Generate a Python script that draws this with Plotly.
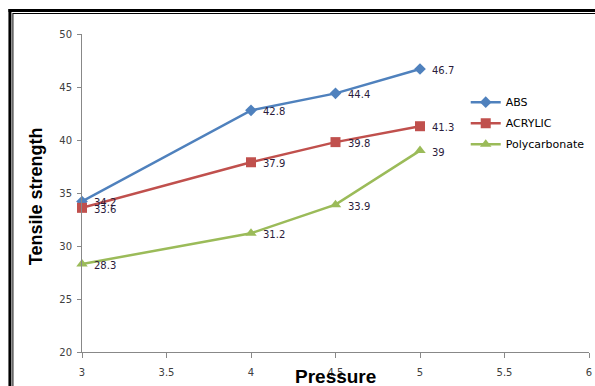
import plotly.graph_objects as go

pressure = [3, 4, 4.5, 5]
abs_vals = [34.2, 42.8, 44.4, 46.7]
acrylic_vals = [33.6, 37.9, 39.8, 41.3]
poly_vals = [28.3, 31.2, 33.9, 39]
series_names = ["ABS", "ACRYLIC", "Polycarbonate"]
x_ticks = [3, 3.5, 4, 4.5, 5, 5.5, 6]
y_ticks = [20, 25, 30, 35, 40, 45, 50]

colors = ["#4F81BD", "#C0504D", "#9BBB59"]
symbols = ["diamond", "square", "triangle-up"]
sizes = [9, 10, 10]
label_color = "#2B1B3B"

fig = go.Figure()
annotations = []
for name, vals, c, s, sz in zip(series_names, [abs_vals, acrylic_vals, poly_vals], colors, symbols, sizes):
    fig.add_trace(go.Scatter(
        x=pressure, y=vals, name=name, mode="lines+markers", legendgroup=name,
        line=dict(color=c, width=2.5),
        marker=dict(symbol=s, size=sz, color=c),
        cliponaxis=False,
    ))
    for xv, yv in zip(pressure, vals):
        annotations.append(dict(
            x=xv, y=yv, xref="x", yref="y", text=f"{yv:g}", showarrow=False,
            xanchor="left", yanchor="middle", xshift=10, yshift=-1.5,
            font=dict(family="DejaVu Sans", size=10, color=label_color)))

W, H = 595, 386
L, R, T, B = 82, 3, 34, 34
pw, ph = W - L - R, H - T - B

def px(xp):
    return (xp - L) / pw

def py(yp):
    return (H - B - yp) / ph

shapes = [
    dict(type="line", xref="paper", yref="paper", x0=px(9.5), x1=px(9.5), y0=py(9), y1=py(390), line=dict(color="black", width=3)),
    dict(type="line", xref="paper", yref="paper", x0=px(8), x1=px(600), y0=py(10.5), y1=py(10.5), line=dict(color="black", width=3)),
    dict(type="line", xref="paper", yref="paper", x0=px(12.5), x1=px(12.5), y0=py(13), y1=py(390), line=dict(color="black", width=1)),
    dict(type="line", xref="paper", yref="paper", x0=px(12.5), x1=px(600), y0=py(13.5), y1=py(13.5), line=dict(color="black", width=1)),
]

annotations += [
    dict(text="<b>Tensile strength</b>", xref="paper", yref="paper", x=px(36), y=py(196),
         xanchor="center", yanchor="middle",
         textangle=-90, showarrow=False, font=dict(family="Liberation Sans, Arial", size=18, color="black")),
    dict(text="<b>Pressure</b>", xref="paper", yref="paper", x=px(337), y=py(376),
         xanchor="center", yanchor="middle",
         showarrow=False, font=dict(family="Liberation Sans, Arial", size=19, color="black")),
]

fig.update_layout(
    width=W, height=H,
    margin=dict(l=L, r=R, t=T, b=B),
    paper_bgcolor="white", plot_bgcolor="white",
    font=dict(family="DejaVu Sans", size=10, color="#404040"),
    showlegend=True,
    legend=dict(x=px(468), y=py(87.7), xanchor="left", yanchor="top",
                font=dict(family="DejaVu Sans", size=11, color="black"),
                traceorder="grouped", tracegroupgap=2,
                bgcolor="rgba(0,0,0,0)", itemwidth=30),
    shapes=shapes,
    annotations=annotations,
)
fig.update_xaxes(range=[3, 6], tickvals=x_ticks, ticktext=[f"{v:g}" for v in x_ticks],
                 showgrid=False, zeroline=False, showline=True, linecolor="#888888", linewidth=1,
                 ticks="outside", ticklen=5, tickcolor="#888888", ticklabelstandoff=6,
                 ticklabeloverflow="allow",
                 tickfont=dict(family="DejaVu Sans", size=10, color="#404040"))
fig.update_yaxes(range=[20, 50], tickvals=y_ticks, showgrid=False, zeroline=False,
                 showline=True, linecolor="#888888", linewidth=1,
                 ticks="outside", ticklen=4, tickcolor="#888888", ticklabelstandoff=3,
                 tickfont=dict(family="DejaVu Sans", size=10, color="#404040"))

fig.write_html("out.html", config={"displayModeBar": False},
               post_script="document.body.style.margin='0';document.body.style.overflow='hidden';")
